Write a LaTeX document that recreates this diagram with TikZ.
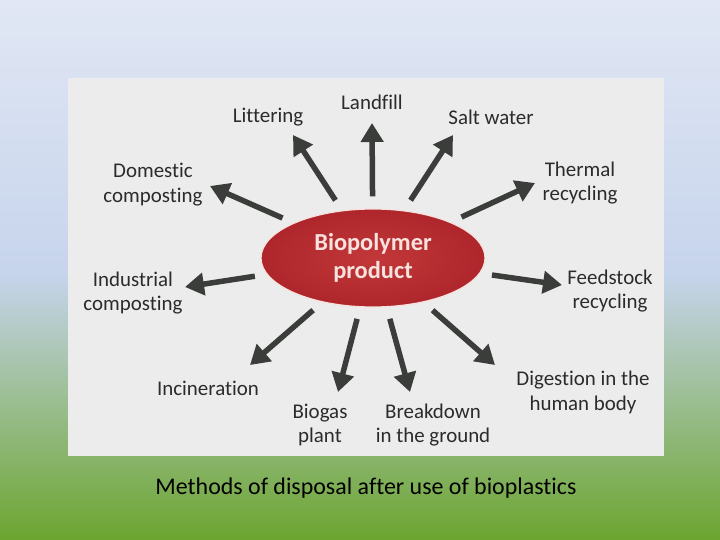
\documentclass[tikz,border=0pt]{standalone}
\usepackage{fontspec}
\setmainfont{Carlito}[Ligatures={CommonOff}]
\usetikzlibrary{arrows.meta, shapes.geometric}
\definecolor{bgtop}{HTML}{E1E7F4}
\definecolor{bgblue}{HTML}{C6D4EC}
\definecolor{bgsage}{HTML}{93B87A}
\definecolor{bggreen}{HTML}{6CA52F}
\definecolor{photo}{HTML}{ECECEC}
\definecolor{blobin}{HTML}{C2383A}
\definecolor{blobout}{HTML}{AE262B}
\definecolor{blobtext}{HTML}{F8E2DE}
\definecolor{arrowgrey}{HTML}{3A3D3A}
\definecolor{labelgrey}{HTML}{2B2B2B}

\begin{document}
\begin{tikzpicture}[x=1bp, y=-1bp,
        lbl/.style={align=center, font=\fontsize{21}{25}\selectfont, text=labelgrey, inner sep=0pt},
        blob/.style={ellipse, inner sep=0pt, minimum width=224bp, minimum height=98bp,
                     inner color=blobin, outer color=blobout, draw=blobtext, line width=1.2bp,
                     align=center, text=blobtext, font=\fontsize{24.5}{28}\selectfont\bfseries},
        arr/.style={-{Triangle[length=19bp, width=22bp]}, line width=5.5bp, arrowgrey, shorten <=12bp}
      ]
        \useasboundingbox (0,0) rectangle (720,540);
        % slide background and scanned page
        \fill[top color=bgtop, bottom color=bgblue] (0,0) rectangle (720,276);
        \fill[top color=bgblue, middle color=bgsage, bottom color=bggreen] (0,275) rectangle (720,540);
        \fill[photo] (68,78) rectangle (664,456);

        \node[blob] (bio) at (373,258) {Biopolymer\\product};

        \node[lbl] (landfill) at (372,102) {Landfill};
        \node[lbl] (litter) at (268,117) {Littering};
        \node[lbl] (salt) at (491,117) {Salt water};
        \node[lbl] (domestic) at (153,185) {Domestic\\composting};
        \node[lbl] (thermal) at (580,183) {Thermal\\recycling};
        \node[lbl] (industrial) at (133,293) {Industrial\\composting};
        \node[lbl] (feedstock) at (610,291) {Feedstock\\recycling};
        \node[lbl] (incin) at (208,388) {Incineration};
        \node[lbl] (biogas) at (320,425) {Biogas\\plant};
        \node[lbl] (breakdown) at (433,425) {Breakdown\\in the ground};
        \node[lbl] (digestion) at (583,392) {Digestion in the\\human body};

        % arrow tips
        \coordinate (tLand) at (372,123);
        \coordinate (tLitter) at (293,135);
        \coordinate (tSalt) at (453,135);
        \coordinate (tDomestic) at (210,186);
        \coordinate (tThermal) at (535,183);
        \coordinate (tIndustrial) at (185,287);
        \coordinate (tFeedstock) at (562,285);
        \coordinate (tIncin) at (250,365);
        \coordinate (tBiogas) at (338,392);
        \coordinate (tBreakdown) at (410,392);
        \coordinate (tDigestion) at (495,365);

        \foreach \t in {tLand, tLitter, tSalt, tDomestic, tThermal, tIndustrial,
                        tFeedstock, tIncin, tBiogas, tBreakdown, tDigestion}
          \draw[arr] (bio) -- (\t);

        \node[font=\fontsize{24}{28}\selectfont] (caption) at (366,488) {Methods of disposal after use of bioplastics};
      \end{tikzpicture}
\end{document}
